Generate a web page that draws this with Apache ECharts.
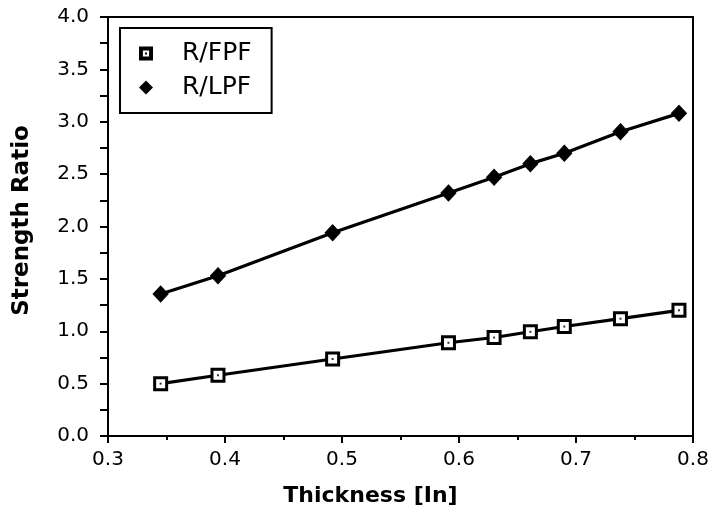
<!DOCTYPE html>
<html>
<head>
<meta charset="utf-8">
<script src="https://cdn.jsdelivr.net/npm/echarts@6/dist/echarts.min.js"></script>
<style>html,body{margin:0;padding:0;background:#fff}#c{width:716px;height:524px}</style>
</head>
<body>
<div id="c"></div>
<script>
var thickness = [0.345, 0.394, 0.492, 0.591, 0.630, 0.661, 0.690, 0.738, 0.788];
var fpfRatio  = [0.50, 0.58, 0.735, 0.89, 0.94, 0.995, 1.045, 1.12, 1.20];
var lpfRatio  = [1.355, 1.53, 1.94, 2.32, 2.47, 2.60, 2.70, 2.905, 3.08];
var seriesNames = ['R/FPF', 'R/LPF'];
var xAxisTitle = 'Thickness [In]';
var yAxisTitle = 'Strength Ratio';

function zip(xs, ys) { return xs.map(function (x, i) { return [x, ys[i]]; }); }

var FONT = 'DejaVu Sans';
var fpfIcon = 'path://M0 0L10 0L10 10L0 10Z M2.8 2.8L2.8 7.2L7.2 7.2L7.2 2.8Z M4.3 4.3L5.7 4.3L5.7 5.7L4.3 5.7Z';

var chart = echarts.init(document.getElementById('c'), null, {renderer: 'canvas'});
chart.setOption({
  animation: false,
  backgroundColor: '#fff',
  grid: {left: 108, right: 23, top: 17, bottom: 88, show: true, borderColor: '#000', borderWidth: 2, containLabel: false},
  legend: {
    orient: 'vertical',
    left: 120, top: 28,
    padding: [13, 20, 13, 19],
    itemGap: 9,
    itemWidth: 14, itemHeight: 14,
    borderColor: '#000', borderWidth: 2,
    textStyle: {fontFamily: FONT, fontSize: 25, color: '#000', padding: [0, 0, 0, 24], lineHeight: 25},
    data: [
      {name: seriesNames[0], icon: fpfIcon, itemStyle: {color: '#000', borderWidth: 0}},
      {name: seriesNames[1], icon: 'diamond', itemStyle: {color: '#000', borderWidth: 0}}
    ]
  },
  xAxis: {
    type: 'value', min: 0.3, max: 0.8, interval: 0.1,
    name: xAxisTitle, nameLocation: 'middle', nameGap: 49,
    nameTextStyle: {fontFamily: FONT, fontSize: 22, fontWeight: 'bold', color: '#000', padding: [0, 60, 0, 0]},
    axisLine: {show: true, onZero: false, lineStyle: {color: '#000', width: 2}},
    axisTick: {show: true, length: 7, lineStyle: {color: '#000', width: 2}},
    minorTick: {show: true, splitNumber: 2, length: 4, lineStyle: {color: '#000', width: 2}},
    splitLine: {show: false},
    axisLabel: {fontFamily: FONT, fontSize: 20, color: '#000', margin: 14,
      formatter: function (v) { return v.toFixed(1); }}
  },
  yAxis: {
    type: 'value', min: 0, max: 4, interval: 0.25,
    name: yAxisTitle, nameLocation: 'middle', nameGap: 74,
    nameTextStyle: {fontFamily: FONT, fontSize: 23, fontWeight: 'bold', color: '#000', padding: [0, 0, 0, 12]},
    axisLine: {show: true, onZero: false, lineStyle: {color: '#000', width: 2}},
    axisTick: {show: true, length: 8, lineStyle: {color: '#000', width: 2}},
    splitLine: {show: false},
    axisLabel: {fontFamily: FONT, fontSize: 20, color: '#000', margin: 19,
      formatter: function (v) { return Math.abs(v * 2 - Math.round(v * 2)) < 1e-6 ? v.toFixed(1) : ''; }}
  },
  series: [
    {
      name: seriesNames[0], type: 'line', data: zip(thickness, fpfRatio),
      symbol: 'rect', symbolSize: 12, showAllSymbol: true,
      lineStyle: {color: '#000', width: 3.2},
      itemStyle: {color: '#fff', borderColor: '#000', borderWidth: 3},
      z: 3
    },
    {
      name: 'dots', type: 'scatter', data: zip(thickness, fpfRatio),
      symbol: 'rect', symbolSize: 2, silent: true,
      itemStyle: {color: '#000'}, z: 5
    },
    {
      name: seriesNames[1], type: 'line', data: zip(thickness, lpfRatio),
      symbol: 'diamond', symbolSize: [15, 16], showAllSymbol: true,
      lineStyle: {color: '#000', width: 3.2},
      itemStyle: {color: '#000', borderColor: '#000', borderWidth: 1},
      z: 3
    }
  ]
});
</script>
</body>
</html>
